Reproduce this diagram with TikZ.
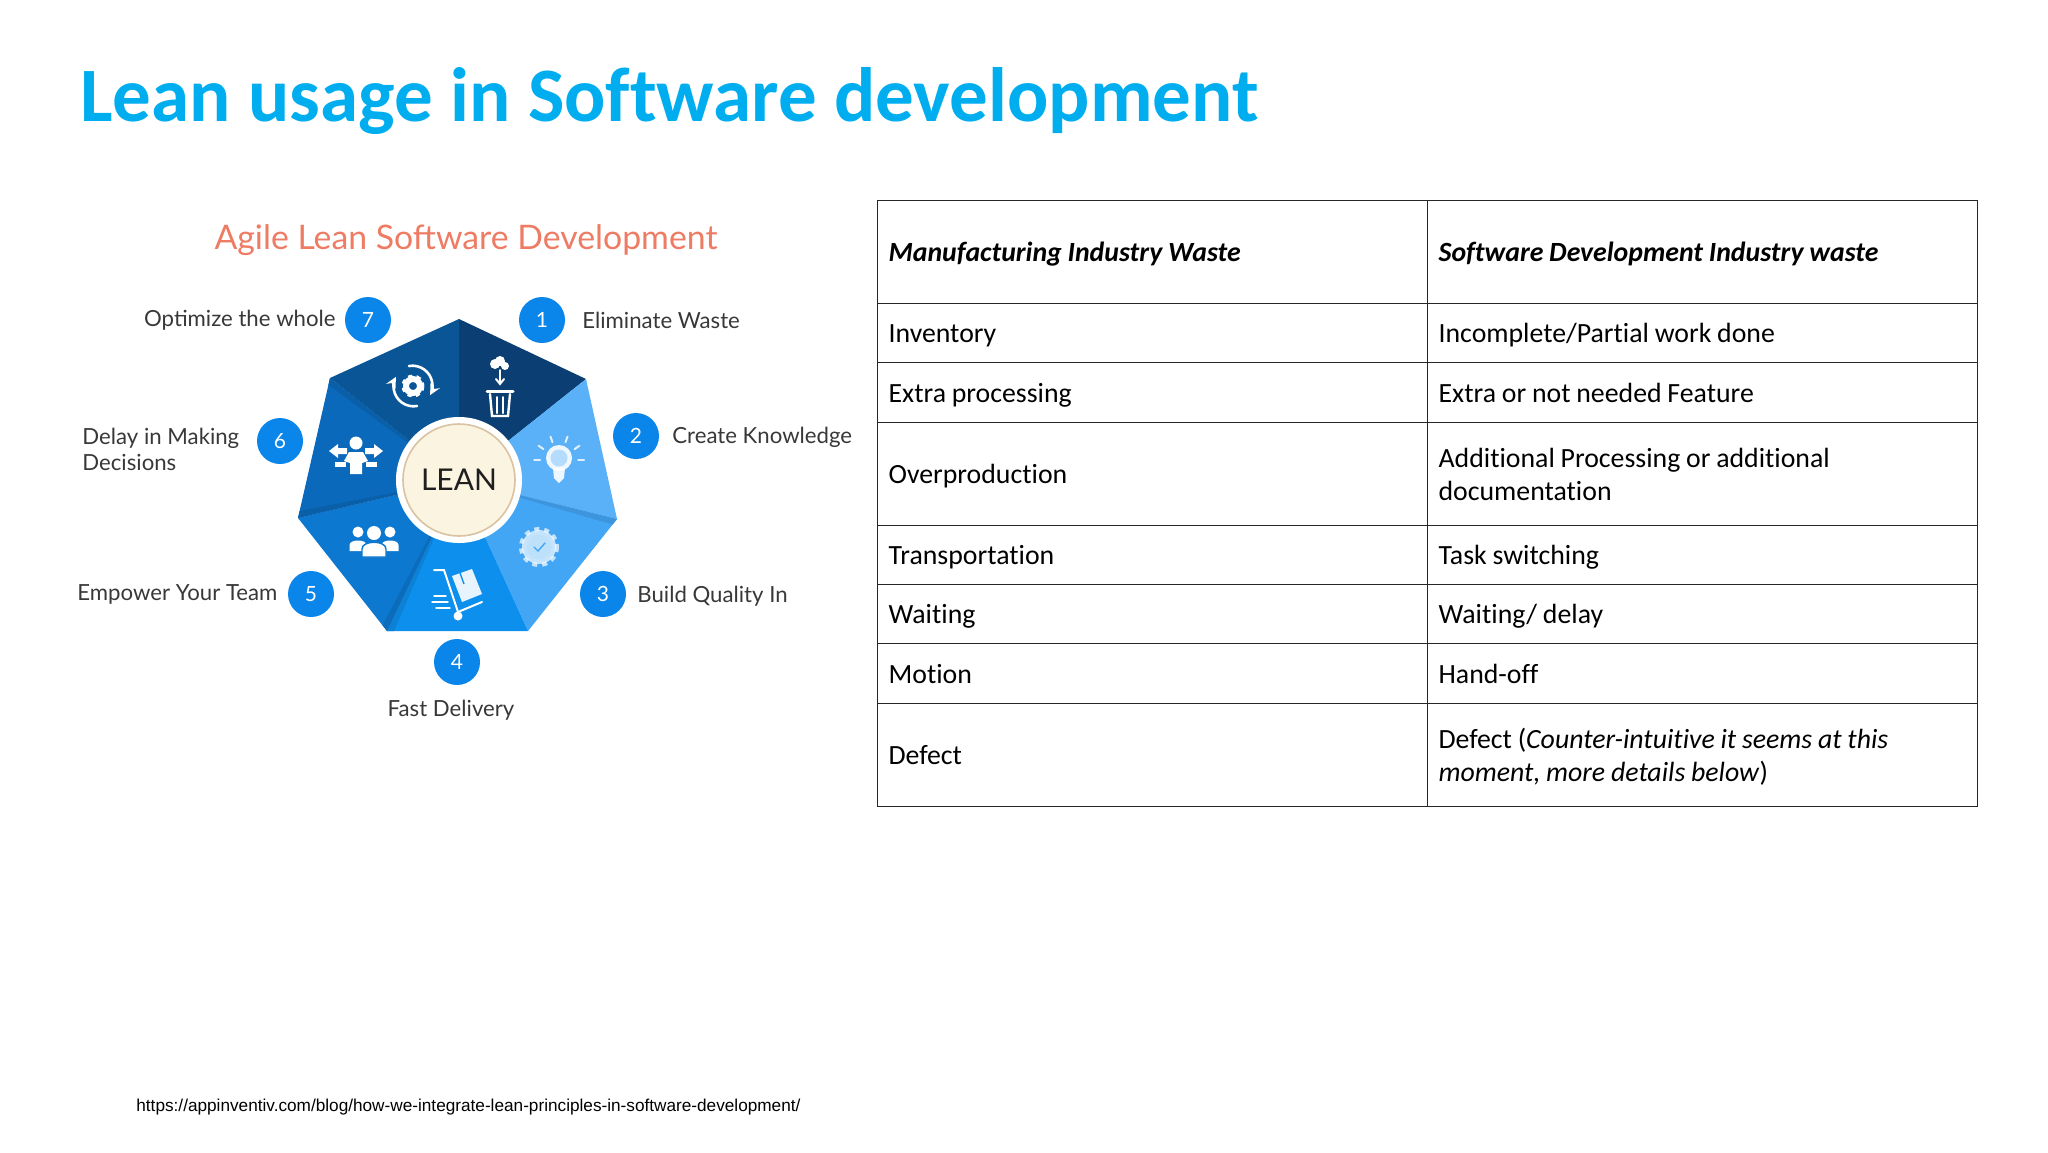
\documentclass[tikz,border=0pt]{standalone}
\usepackage{fontspec}
\setmainfont{Carlito}[Ligatures=NoCommon]
\newfontfamily\labelfont{Lato}
\newfontfamily\urlfont{Liberation Sans}
\usetikzlibrary{calc}
\definecolor{titleblue}{HTML}{00AEEF}
\definecolor{agilered}{HTML}{EE7B63}
\definecolor{badgeblue}{HTML}{0A85EA}
\definecolor{segone}{HTML}{0B3F73}
\definecolor{segtwo}{HTML}{5AB1F8}
\definecolor{segthree}{HTML}{43A6F5}
\definecolor{segfour}{HTML}{0D8FEE}
\definecolor{segfive}{HTML}{0C78D0}
\definecolor{segsix}{HTML}{0B69BC}
\definecolor{segseven}{HTML}{0A5596}
\definecolor{leancream}{HTML}{FBF4E0}
\definecolor{leantan}{HTML}{D9C3A3}
\tikzset{
  cellbox/.style={draw=black!85,line width=0.6pt,anchor=north west,align=left,minimum width=275pt,
    text width=264pt,inner xsep=5.5pt,inner ysep=0pt,font=\fontsize{13.9}{16.6}\selectfont,
    execute at begin node={\spaceskip=2.9pt\rule{0pt}{14.6pt}},execute at end node=\strut},
  badge/.style={circle,fill=badgeblue,text=white,minimum size=23pt,inner sep=0pt,font=\labelfont\fontsize{10.5}{12}\selectfont},
  waylabel/.style={text=black!78,inner sep=0pt,align=left,font=\labelfont\fontsize{11.1}{13}\selectfont},
  iconfill/.style={fill=white,draw=none},
  iconline/.style={draw=white,line width=1pt,line cap=round},
}
\begin{document}
\begin{tikzpicture}[x=0.5pt,y=-0.5pt]
    \useasboundingbox (0,0) rectangle (2048,1152);
    %% Titles
    \node[anchor=west,inner sep=0pt,text=titleblue,font=\fontsize{38.5}{42}\selectfont\bfseries] (title) at (80,101) {Lean usage in Software development};
    \node[inner sep=0pt,text=agilered,font=\labelfont\fontsize{16.9}{20}\selectfont] (agile) at (466,240) {Agile Lean Software Development};
    \node[anchor=west,inner sep=0pt,font=\urlfont\fontsize{8.6}{11}\selectfont] (source) at (136,1107) {https://appinventiv.com/blog/how-we-integrate-lean-principles-in-software-development/};
    %% Heptagon
    \coordinate (hub) at (459,480);
    \coordinate (v1) at (459,319);
    \coordinate (v2) at (586,379);
    \coordinate (v3) at (617,519);
    \coordinate (v4) at (528,631);
    \coordinate (v5) at (387,631);
    \coordinate (v6) at (298,518);
    \coordinate (v7) at (330,378);
    \foreach \a/\b/\col in {v1/v2/segone,v2/v3/segtwo,v3/v4/segthree,v4/v5/segfour,v5/v6/segfive,v6/v7/segsix,v7/v1/segseven}
        \fill[\col] (hub) -- (\a) -- (\b) -- cycle;
    %% Darker folds
    \foreach \a/\b/\col in {v3/v4/segthree,v5/v4/segfour,v5/v6/segfive,v6/v7/segsix,v7/v6/segsix}
        \fill[\col!90!black] (hub) -- (\a) -- ($(\a)!0.05!(\b)$) -- cycle;
    %% Centre
    \node[circle,fill=white,minimum size=63pt,inner sep=0pt] (leanring) at (hub) {};
    \node[circle,fill=leancream,draw=leantan,line width=0.8pt,minimum size=56pt,inner sep=0pt,text=black!88,font=\labelfont\fontsize{15}{18}\selectfont] (lean) at (hub) {LEAN};
    %% Badges
    \foreach \id/\x/\y in {1/542/320,2/636/436,3/603/594,4/457/662,5/311/594,6/280/441,7/368/320}
        \node[badge] (badge\id) at (\x,\y) {\id};
    %% Labels
    \node[waylabel,anchor=east] (way7) at (336,320) {Optimize the whole};
    \node[waylabel,anchor=west] (way1) at (582,320) {Eliminate Waste};
    \node[waylabel,anchor=west] (way2) at (672,437) {Create Knowledge};
    \node[waylabel,anchor=west] (way3) at (637,596) {Build Quality In};
    \node[waylabel] (way4) at (451,710) {Fast Delivery};
    \node[waylabel,anchor=west] (way5) at (77,594) {Empower Your Team};
    \node[waylabel,anchor=west] (way6) at (82,449) {Delay in Making\\Decisions};
    %% Icons
    \begin{scope}[shift={(500,388)}] % bin
        \fill[iconfill] (-5,-24) circle (5) (5,-22) circle (4) (0,-27) circle (5);
        \draw[iconline] (0,-18) -- (0,-6);
        \draw[iconline] (-4,-9) -- (0,-4) -- (4,-9);
        \draw[iconline,line width=1.5pt] (-13,3) -- (13,3);
        \draw[iconline,line width=1.2pt] (-10,6) -- (-8,28) -- (8,28) -- (10,6);
        \draw[iconline] (-3,9) -- (-3,25) (3,9) -- (3,25);
    \end{scope}
    \begin{scope}[shift={(559,460)}] % bulb
        \fill[iconfill,opacity=0.9] (-6,8) -- (6,8) -- (5,18) -- (0,23) -- (-5,18) -- cycle;
        \fill[iconfill,opacity=0.9] (0,-2) circle (13);
        \fill[segtwo!45!white] (0,-2) circle (8.5);
        \foreach \ang in {0,-35,-70,-110,-145,180}
            \draw[iconline,opacity=0.8] (\ang:19) -- (\ang:25);
    \end{scope}
    \begin{scope}[shift={(539,547)}] % quality seal
        \fill[white,opacity=0.7] (0,0) circle (17);
        \draw[white,opacity=0.7,line width=2pt,dash pattern=on 2.5pt off 2.5pt] (0,0) circle (18);
        \fill[segthree!35!white] (0,0) circle (12.5);
        \draw[iconline,draw=segthree,line width=0.7pt] (-5,0) -- (-1,4) -- (6,-4);
    \end{scope}
    \begin{scope}[shift={(458,590)}] % trolley
        \draw[iconline] (-24,-20) -- (-14,-20) -- (0,22) -- (24,12);
        \fill[iconfill] (0,26) circle (4.5);
        \fill[iconfill,opacity=0.9] (-6,-14) -- (14,-21) -- (24,4) -- (4,12) -- cycle;
        \draw[segfour,line width=0.7pt] (2,-17) -- (6,-6);
        \draw[iconline,line width=0.7pt] (-24,6) -- (-12,6) (-26,12) -- (-10,12) (-22,18) -- (-8,18);
    \end{scope}
    \begin{scope}[shift={(374,543)}] % team
        \foreach \px in {-16,16} {
            \fill[iconfill] (\px,-11) circle (5.5);
            \fill[iconfill] (\px-8.5,8) -- (\px-8.5,2) .. controls (\px-8.5,-4) and (\px+8.5,-4) .. (\px+8.5,2) -- (\px+8.5,8) -- cycle;
        }
        \fill[iconfill] (0,-10) circle (7);
        \draw[segfive,line width=0.7pt,fill=white] (-12,14) -- (-12,6) .. controls (-12,-3) and (12,-3) .. (12,6) -- (12,14) -- cycle;
    \end{scope}
    \begin{scope}[shift={(356,455)}] % person with arrows
        \fill[iconfill] (0,-12) circle (6.5);
        \fill[iconfill] (-7,-3) -- (7,-3) -- (12,6) -- (6,8) -- (6,19) -- (-6,19) -- (-6,8) -- (-12,6) -- cycle;
        \foreach \sg in {-1,1} {
            \fill[iconfill] (\sg*9,-7) -- (\sg*18,-7) -- (\sg*18,-11) -- (\sg*27,-4) -- (\sg*18,3) -- (\sg*18,-1) -- (\sg*9,-1) -- cycle;
            \fill[iconfill] (\sg*10,7) -- (\sg*21,7) -- (\sg*21,12) -- (\sg*10,12) -- cycle;
        }
    \end{scope}
    \begin{scope}[shift={(413,386)}] % gear with arrows
        \draw[white,line width=2pt,dash pattern=on 2pt off 2pt] (0,0) circle (9.5);
        \draw[white,line width=3pt] (0,0) circle (7);
        \draw[iconline,line width=1.3pt,-stealth] (-4,-20) arc (-100:28:20);
        \draw[iconline,line width=1.3pt,-stealth] (4,20) arc (80:208:20);
    \end{scope}
    %% Table
    \foreach \id/\ytop/\rowh/\lefttext/\righttext in {
        0/200/103/{\bfseries\itshape Manufacturing Industry Waste}/{\bfseries\itshape Software Development Industry waste},
        1/303/59/{Inventory}/{Incomplete/Partial work done},
        2/362/60/{Extra processing}/{Extra or not needed Feature},
        3/422/103/{Overproduction}/{Additional Processing or additional\\documentation},
        4/525/59/{Transportation}/{Task switching},
        5/584/59/{Waiting}/{Waiting/ delay},
        6/643/60/{Motion}/{Hand-off},
        7/703/103/{Defect}/{Defect (\textit{Counter-intuitive it seems at this\\moment, more details below})}} {
        \node[cellbox,minimum height=\rowh*0.5pt] (waste\id) at (877,\ytop) {\lefttext};
        \node[cellbox,minimum height=\rowh*0.5pt] (soft\id) at (1427,\ytop) {\righttext};
    }
\end{tikzpicture}
\end{document}
